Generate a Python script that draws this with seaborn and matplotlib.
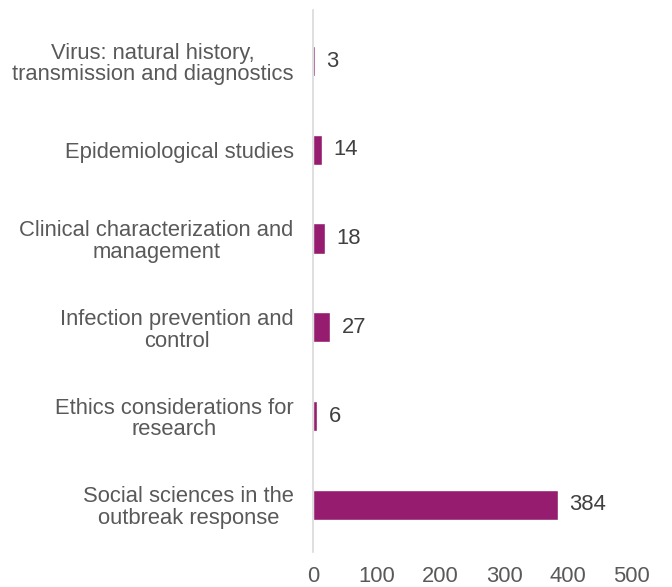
import matplotlib
matplotlib.use("Agg")
import matplotlib.pyplot as plt
import seaborn as sns
import pandas as pd

# Data
categories = [
    "Virus: natural history,\ntransmission and diagnostics",
    "Epidemiological studies",
    "Clinical characterization and\nmanagement",
    "Infection prevention and\ncontrol",
    "Ethics considerations for\nresearch",
    "Social sciences in the\noutbreak response",
]
counts = [3, 14, 18, 27, 6, 384]
x_ticks = [0, 100, 200, 300, 400, 500]

BAR_COLOR = "#951C6F"
TEXT_COLOR = "#595959"
FONT_SIZE = 15.8

sns.set_style("white")
plt.rcParams["font.family"] = ["Liberation Sans", "DejaVu Sans"]

df = pd.DataFrame({"topic": categories, "count": counts})

fig = plt.figure(figsize=(6.72, 5.87), dpi=100)
ax = fig.add_axes([0.466, 0.0596, 0.474, 0.9233])

sns.barplot(data=df, x="count", y="topic", orient="h", color=BAR_COLOR,
            width=0.34, saturation=1, ax=ax)

ax.set_xlim(0, 500)
ax.set_ylim(5.53, -0.574)
ax.set_xticks(x_ticks)
ax.set_xlabel("")
ax.set_ylabel("")

# Value labels at the end of each bar
for i, v in enumerate(counts):
    ax.text(v + 18, i, str(v), va="center", ha="left", fontsize=FONT_SIZE, color="#404040")

for side in ["top", "right", "bottom"]:
    ax.spines[side].set_visible(False)
ax.spines["left"].set_color("#D9D9D9")
ax.spines["left"].set_linewidth(1.2)

ax.tick_params(axis="both", length=0, labelsize=FONT_SIZE, labelcolor=TEXT_COLOR)
ax.tick_params(axis="x", pad=10)
ax.tick_params(axis="y", pad=14)
for lbl in ax.get_yticklabels():
    lbl.set_linespacing(1.05)
    lbl.set_multialignment("center")

fig.savefig("out.png", dpi=100)
plt.close(fig)
